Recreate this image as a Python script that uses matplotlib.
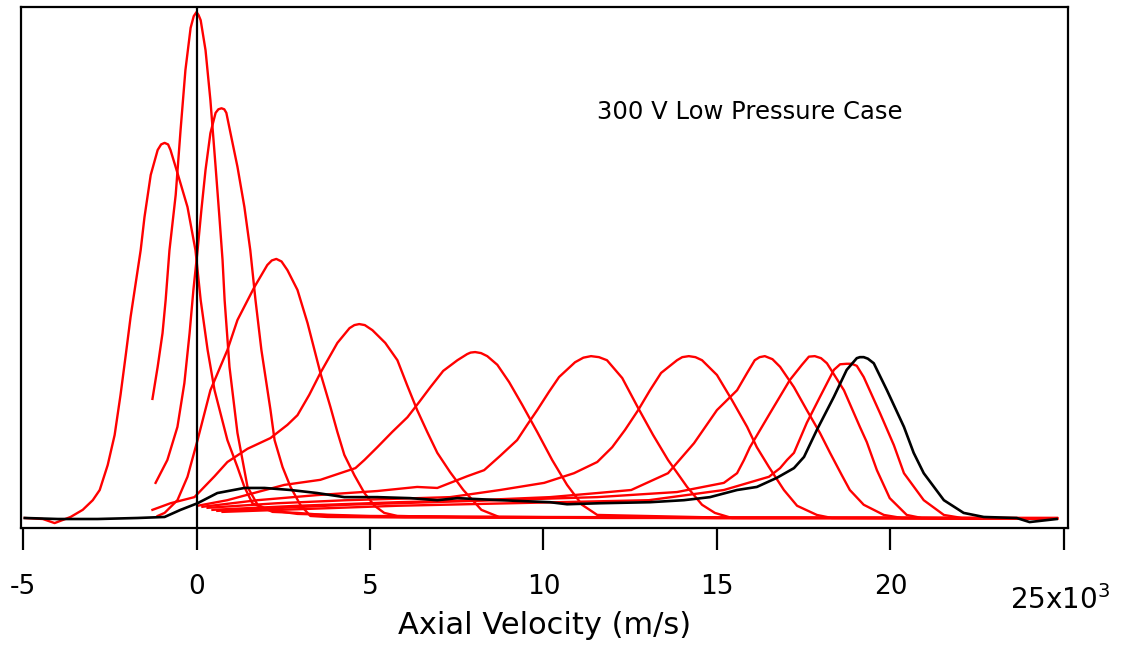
import matplotlib
matplotlib.use("Agg")
import matplotlib.pyplot as plt

# Funções de distribuição (unidades arbitrárias) vs velocidade axial (x10^3 m/s)
# curvas vermelhas, da esquerda para a direita
va = [-4.95, -4.43, -4.09, -3.86, -3.63, -3.28, -2.99, -2.79, -2.56, -2.36, -2.19, -2.04, -1.90, -1.61,
      -1.50, -1.32, -1.12, -1.02, -0.92, -0.82, -0.75, -0.55, -0.26, -0.03, 0.12, 0.32, 0.52, 0.89, 1.18,
      1.38, 1.61, 2.04, 2.91, 5.0, 10.0, 15.0, 20.0, 24.8]
fa = [0.002, 0.0, -0.008, -0.002, 0.004, 0.018, 0.037, 0.057, 0.106, 0.165, 0.244, 0.322, 0.397, 0.528,
      0.593, 0.676, 0.725, 0.736, 0.739, 0.736, 0.725, 0.68, 0.613, 0.528, 0.43, 0.332, 0.253, 0.155, 0.102,
      0.063, 0.031, 0.018, 0.01, 0.006, 0.004, 0.003, 0.002, 0.002]

vb = [-1.27, -1.12, -0.98, -0.89, -0.78, -0.60, -0.46, -0.32, -0.17, -0.08, 0.0, 0.06, 0.12, 0.26, 0.40,
      0.55, 0.66, 0.75, 0.81, 0.95, 1.18, 1.47, 1.76, 2.19, 2.91, 4.06, 6.0, 10.0, 15.0, 20.0, 24.8]
fb = [0.236, 0.299, 0.365, 0.43, 0.528, 0.637, 0.764, 0.882, 0.965, 0.988, 0.996, 0.99, 0.98, 0.921, 0.823,
      0.692, 0.593, 0.509, 0.43, 0.299, 0.169, 0.063, 0.028, 0.014, 0.012, 0.006, 0.004, 0.003, 0.002,
      0.002, 0.001]

vc = [-1.18, -0.84, -0.55, -0.35, -0.20, -0.09, 0.03, 0.14, 0.26, 0.40, 0.55, 0.63, 0.72, 0.80, 0.86, 0.98,
      1.18, 1.38, 1.55, 1.70, 1.87, 2.13, 2.25, 2.48, 2.71, 2.99, 3.28, 3.77, 6.0, 10.0, 15.0, 20.0, 24.8]
fc = [0.071, 0.116, 0.181, 0.267, 0.365, 0.45, 0.528, 0.607, 0.686, 0.758, 0.798, 0.805, 0.807, 0.805,
      0.798, 0.758, 0.692, 0.613, 0.528, 0.43, 0.332, 0.215, 0.155, 0.102, 0.063, 0.028, 0.006, 0.004,
      0.003, 0.003, 0.002, 0.002, 0.002]

vd = [-1.12, -0.92, -0.55, -0.26, 0.03, 0.40, 0.89, 1.18, 1.67, 2.04, 2.17, 2.30, 2.45, 2.62, 2.91, 3.20,
      3.57, 3.86, 4.06, 4.26, 4.55, 4.84, 5.13, 5.41, 5.79, 8.0, 12.0, 16.0, 20.0, 24.8]
fd = [0.006, 0.012, 0.037, 0.083, 0.155, 0.253, 0.332, 0.391, 0.456, 0.499, 0.508, 0.511, 0.506, 0.489,
      0.45, 0.385, 0.287, 0.22, 0.171, 0.126, 0.086, 0.051, 0.026, 0.012, 0.006, 0.003, 0.002, 0.002,
      0.002, 0.001]

ve = [-1.27, -0.75, -0.06, 0.52, 0.89, 1.47, 2.13, 2.62, 2.91, 3.25, 3.57, 4.06, 4.41, 4.55, 4.69, 4.85,
      5.07, 5.44, 5.79, 6.07, 6.36, 6.65, 6.94, 7.31, 7.69, 8.21, 8.72, 12.0, 16.0, 20.0, 24.8]
fe = [0.018, 0.031, 0.043, 0.084, 0.112, 0.138, 0.159, 0.185, 0.204, 0.244, 0.287, 0.346, 0.375, 0.381,
      0.383, 0.381, 0.371, 0.346, 0.312, 0.263, 0.214, 0.171, 0.13, 0.092, 0.057, 0.018, 0.004, 0.003,
      0.002, 0.002, 0.001]

vf = [0.03, 0.89, 1.76, 2.53, 3.57, 4.58, 4.84, 5.21, 5.64, 6.08, 6.42, 6.74, 7.11, 7.52, 7.80, 7.90, 8.03,
      8.20, 8.38, 8.67, 9.01, 9.39, 9.82, 10.25, 10.68, 11.11, 11.55, 15.0, 20.0, 24.8]
ff = [0.026, 0.037, 0.053, 0.067, 0.077, 0.10, 0.116, 0.141, 0.171, 0.20, 0.23, 0.259, 0.291, 0.312, 0.324,
      0.327, 0.328, 0.326, 0.32, 0.303, 0.269, 0.224, 0.171, 0.116, 0.067, 0.028, 0.008, 0.003, 0.002,
      0.001]

vg = [0.17, 1.76, 3.48, 5.21, 6.36, 6.94, 7.80, 8.29, 8.75, 9.24, 9.53, 9.82, 10.16, 10.45, 10.91, 11.15,
      11.37, 11.60, 11.83, 12.27, 12.73, 13.16, 13.59, 14.14, 14.57, 14.94, 15.43, 20.0, 24.8]
fg = [0.024, 0.037, 0.047, 0.055, 0.063, 0.061, 0.084, 0.096, 0.124, 0.155, 0.185, 0.214, 0.25, 0.279,
      0.308, 0.317, 0.32, 0.318, 0.312, 0.277, 0.218, 0.165, 0.116, 0.063, 0.028, 0.012, 0.002, 0.002,
      0.001]

vh = [0.32, 2.33, 4.35, 6.36, 7.31, 8.75, 10.02, 10.88, 11.55, 11.98, 12.35, 12.73, 13.07, 13.39, 13.85,
      14.0, 14.19, 14.38, 14.57, 15.0, 15.43, 15.87, 16.15, 16.50, 16.93, 17.31, 17.88, 18.31, 22.0, 24.8]
fh = [0.022, 0.031, 0.037, 0.041, 0.043, 0.057, 0.071, 0.09, 0.112, 0.141, 0.175, 0.214, 0.253, 0.287,
      0.312, 0.318, 0.32, 0.318, 0.312, 0.283, 0.234, 0.181, 0.141, 0.102, 0.057, 0.026, 0.008, 0.002,
      0.002, 0.001]

vi = [0.46, 2.91, 5.79, 8.09, 10.19, 11.55, 12.53, 13.59, 14.34, 15.0, 15.58, 15.87, 16.09, 16.23, 16.38,
      16.60, 16.82, 17.22, 17.59, 17.97, 18.26, 18.60, 18.83, 19.23, 19.81, 20.33, 24.8]
fi = [0.018, 0.026, 0.033, 0.037, 0.043, 0.051, 0.057, 0.09, 0.149, 0.214, 0.253, 0.287, 0.312, 0.318,
      0.32, 0.314, 0.299, 0.259, 0.214, 0.169, 0.13, 0.086, 0.057, 0.028, 0.008, 0.002, 0.001]

vj = [0.60, 4.35, 8.67, 11.55, 13.85, 15.20, 15.58, 15.78, 15.95, 16.53, 17.10, 17.45, 17.65, 17.82, 18.0,
      18.17, 18.66, 19.12, 19.32, 19.61, 19.98, 20.47, 20.90, 24.8]
fj = [0.016, 0.028, 0.037, 0.043, 0.053, 0.071, 0.09, 0.116, 0.141, 0.208, 0.273, 0.303, 0.319, 0.32, 0.316,
      0.306, 0.253, 0.181, 0.151, 0.096, 0.041, 0.008, 0.002, 0.001]

vk = [0.75, 5.79, 13.04, 15.20, 16.50, 16.82, 17.02, 17.22, 17.59, 17.97, 18.37, 18.55, 18.74, 18.88, 19.03,
      19.23, 19.70, 20.10, 20.39, 20.96, 21.54, 22.06, 24.8]
fk = [0.014, 0.026, 0.037, 0.057, 0.083, 0.10, 0.116, 0.13, 0.189, 0.24, 0.293, 0.304, 0.305, 0.305, 0.301,
      0.279, 0.208, 0.145, 0.09, 0.037, 0.008, 0.002, 0.001]

# curva preta
v_black = [-4.95, -4.0, -2.85, -1.70, -0.92, -0.46, 0.03, 0.60, 1.38, 1.96, 2.71, 3.48, 4.26, 5.21, 6.16,
           6.94, 7.52, 8.75, 10.19, 10.68, 11.63, 13.07, 14.05, 14.80, 15.58, 16.15, 16.73, 17.22, 17.51,
           17.88, 18.37, 18.74, 19.03, 19.12, 19.23, 19.35, 19.52, 19.90, 20.39, 20.67, 20.96, 21.54, 22.11,
           22.69, 23.64, 24.01, 24.79]
f_black = [0.002, 0.0, 0.0, 0.002, 0.004, 0.018, 0.031, 0.051, 0.061, 0.061, 0.057, 0.051, 0.043, 0.043,
           0.041, 0.037, 0.041, 0.037, 0.033, 0.029, 0.031, 0.033, 0.037, 0.043, 0.057, 0.063, 0.081, 0.10,
           0.122, 0.175, 0.24, 0.293, 0.316, 0.318, 0.318, 0.315, 0.306, 0.253, 0.181, 0.13, 0.09, 0.037,
           0.012, 0.004, 0.002, -0.006, 0.0]

red_curves = [(va, fa), (vb, fb), (vc, fc), (vd, fd), (ve, fe), (vf, ff), (vg, fg),
              (vh, fh), (vi, fi), (vj, fj), (vk, fk)]

tick_pos = [-5, 0, 5, 10, 15, 20, 25]
tick_lab = ['-5', '0', '5', '10', '15', '20', '']

plt.rcParams['font.family'] = ['DejaVu Sans']

fig = plt.figure(figsize=(11.27, 6.47), dpi=100)
ax = fig.add_axes([0.0186, 0.1839, 0.9291, 0.8053])

for v, f in red_curves:
    ax.plot(v, f, color='#ff0000', lw=1.7, solid_joinstyle='round')
ax.plot(v_black, f_black, color='black', lw=1.9, solid_joinstyle='round')
ax.axvline(0, color='black', lw=1.6)

ax.set_xlim(-5.06, 25.12)
ax.set_ylim(-0.0177, 1.006)
ax.set_yticks([])
ax.set_xticks(tick_pos)
ax.set_xticklabels(tick_lab, fontsize=19)
ax.tick_params(axis='x', direction='out', length=16, width=1.6, pad=17)
for s in ax.spines.values():
    s.set_linewidth(1.6)

ax.set_xlabel('Axial Velocity (m/s)', fontsize=22, labelpad=8)
fig.text(0.9406, 0.0726, '25x10$^3$', fontsize=20, ha='center', va='center')
ax.text(0.550, 0.798, '300 V Low Pressure Case', transform=ax.transAxes, fontsize=17.5,
        ha='left', va='center')

fig.savefig('out.png', dpi=100)
